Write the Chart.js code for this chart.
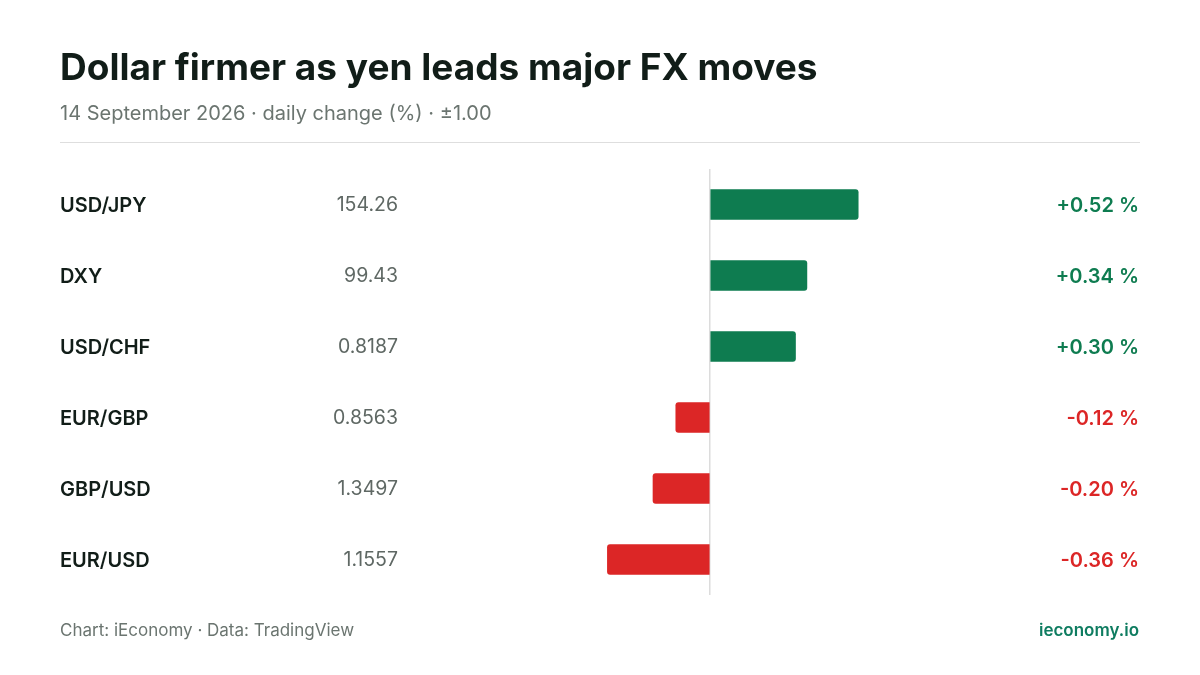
<!DOCTYPE html>
<html><head><meta charset="utf-8">
<script src="https://cdn.jsdelivr.net/npm/chart.js@4"></script>
<style>html,body{margin:0;padding:0;background:#fff}#w{width:1200px;height:675px;position:relative}</style>
</head><body><div id="w"><canvas id="c"></canvas></div>
<script>
const pairs = ["USD/JPY","DXY","USD/CHF","EUR/GBP","GBP/USD","EUR/USD"];
const prices = ["154.26","99.43","0.8187","0.8563","1.3497","1.1557"];
const changes = [0.52,0.34,0.30,-0.12,-0.20,-0.36];
const changeLabels = ["+0.52 %","+0.34 %","+0.30 %","-0.12 %","-0.20 %","-0.36 %"];
const title = "Dollar firmer as yen leads major FX moves";
const subtitle = "14 September 2026 · daily change (%) · ±1.00";
const source = "Chart: iEconomy · Data: TradingView";
const brand = "ieconomy.io";
const GREEN = "#0e7c50", RED = "#dc2626";
const F = "Inter, 'Noto Sans', sans-serif";

const deco = {
  id:"deco",
  afterDraw(ch){
    const c = ch.ctx, y = ch.scales.y;
    c.save();
    c.textBaseline = "alphabetic"; c.textAlign = "left";
    c.fillStyle = "#111d18"; c.font = "700 37px " + F;
    c.fillText(title, 60, 80);
    c.fillStyle = "#6b7570"; c.font = "400 20px " + F;
    c.fillText(subtitle, 60, 120);
    c.strokeStyle = "#dedede"; c.lineWidth = 1;
    c.beginPath(); c.moveTo(60,142.5); c.lineTo(1140,142.5); c.stroke();
    c.textBaseline = "middle";
    pairs.forEach((p,i)=>{
      const yy = y.getPixelForValue(i) + 1;
      c.textAlign="left"; c.fillStyle="#111d18"; c.font="600 20px "+F;
      c.fillText(p,60,yy);
      c.textAlign="right"; c.fillStyle="#5f6864"; c.font="400 19.5px "+F;
      c.fillText(prices[i],398,yy);
      c.fillStyle = changes[i]>=0?GREEN:RED; c.font="600 20px "+F;
      c.fillText(changeLabels[i],1139,yy);
    });
    c.textBaseline="alphabetic";
    c.textAlign="left"; c.fillStyle="#6b7570"; c.font="400 17px "+F;
    c.fillText(source,60,636);
    c.textAlign="right"; c.fillStyle="#0e7c60"; c.font="600 17px "+F;
    c.fillText(brand,1139,636);
    c.restore();
  }
};

new Chart(document.getElementById("c"),{
  type:"bar",
  data:{labels:pairs,datasets:[{data:changes,
    backgroundColor:changes.map(v=>v>=0?GREEN:RED),
    barThickness:30,borderRadius:3,borderSkipped:"start"}]},
  options:{
    indexAxis:"y",responsive:true,maintainAspectRatio:false,animation:false,
    layout:{padding:{left:425,right:205,top:169,bottom:80}},
    plugins:{legend:{display:false},tooltip:{enabled:false}},
    scales:{
      x:{min:-1,max:1,display:true,border:{display:false},ticks:{display:false},
        grid:{drawTicks:false,color:ctx=>ctx.tick&&ctx.tick.value===0?"#dcdcdc":"transparent",lineWidth:1.5}},
      y:{display:false}
    }
  },
  plugins:[deco]
});
</script></body></html>
